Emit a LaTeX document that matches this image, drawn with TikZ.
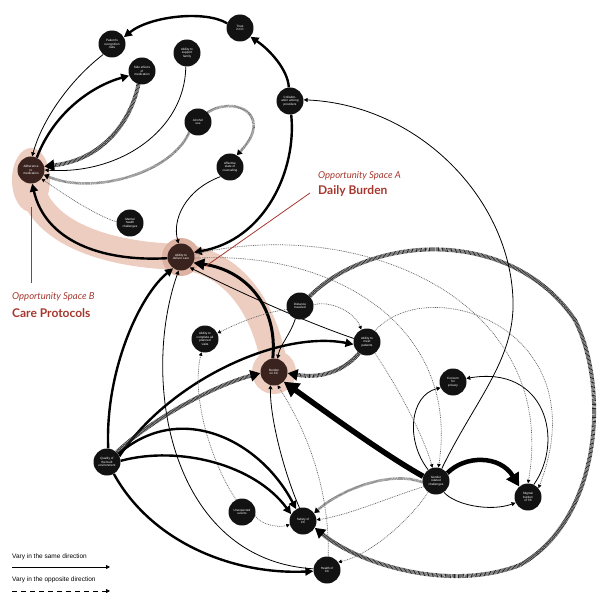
\documentclass[tikz,border=0pt]{standalone}
\usepackage{fontspec}
\setmainfont{Liberation Sans}
\newfontfamily\labfont{Lato}
\usetikzlibrary{arrows.meta}
\pgfdeclarelayer{bg}\pgfdeclarelayer{edges}
\pgfsetlayers{bg,edges,main}
\definecolor{oppred}{HTML}{A5372E}
\definecolor{bandc}{HTML}{EDCDBF}
\definecolor{haloc}{HTML}{DDB2A2}
\definecolor{nodebrown}{HTML}{3A231E}
\begin{document}
\begin{tikzpicture}[x=1pt,y=-1pt,
 cn/.style={circle,fill=black!93,text=white,minimum size=27pt,inner sep=0pt,align=center,font=\fontsize{3.1}{3.6}\selectfont},
 cnb/.style={cn,fill=nodebrown},
 posl/.style={draw=black,line width=0.8pt,-{Triangle[length=4pt,width=4pt]}},
 thk/.style={draw=black,line width=2.4pt,-{Triangle[length=8pt,width=8pt]}},
 hat/.style={draw=black!85,line width=4pt,dash pattern=on 0.7pt off 0.6pt,-{Triangle[length=10pt,width=11pt,color=black]}},
 hatl/.style={draw=black!60,line width=2.6pt,dash pattern=on 0.5pt off 0.6pt,-{Triangle[length=5pt,width=6pt,color=black]}},
 dots/.style={draw=black!60,line width=0.7pt,dash pattern=on 0.9pt off 0.9pt,-{Triangle[length=3.5pt,width=3.5pt,color=black]}},
 opp/.style={text=oppred,anchor=west,inner sep=0pt},
 leg/.style={anchor=west,inner sep=0pt,font=\fontsize{6.5}{7}\selectfont}]
\useasboundingbox (0,0) rectangle (604,593);
% nodes
\node[cn] (recog) at (112,44) {Patient's\\recognition\\risks};
\node[cn] (side) at (142,71) {Side effects\\of\\medication};
\node[cn] (support) at (187,53) {Ability to\\support\\family};
\node[cn] (trust) at (240,28) {Trust\\in CC};
\node[cn] (collab) at (290,101) {Collabor-\\ation among\\providers};
\node[cn] (alcohol) at (198,122) {Alcohol\\use};
\node[cn] (affect) at (230,167) {Affective\\state of\\counseling};
\node[cnb] (adher) at (31,170) {Adherence\\to\\medication};
\node[cn] (mental) at (130,223) {Mental\\health\\challenges};
\node[cnb] (deliver) at (181,257) {Ability to\\deliver care};
\node[cn] (distance) at (300,306) {Distance\\traveled};
\node[cn] (complete) at (205,339) {Ability to\\complete all\\planned\\visits};
\node[cn] (meet) at (367,342) {Ability to\\meet\\patients};
\node[cnb] (burden) at (274,372) {Burden\\on CC};
\node[cn] (privacy) at (453,382) {Concern\\for\\privacy};
\node[cn] (quality) at (107,462) {Quality of\\the built\\environment};
\node[cn] (gender) at (436,481) {Gender\\related\\challenges};
\node[cn] (stigma) at (528,497) {Stigma/\\burden\\of TB};
\node[cn] (unexp) at (242,512) {Unexpected\\events};
\node[cn] (safety) at (303,521) {Safety of\\CC};
\node[cn] (health) at (327,570) {Health of\\CC};
% highlight band
\begin{pgfonlayer}{bg}
\fill[bandc] (31,180) ellipse [x radius=19pt, y radius=32pt];
\draw[bandc,line width=26pt,line cap=round] (31,185) .. controls (40,230) and (100,255) .. (181,257) .. controls (240,262) and (270,320) .. (276,378);
\fill[haloc] (deliver) circle [radius=19pt];
\fill[bandc] (burden) circle [radius=22pt];
\end{pgfonlayer}
% red labels
\node[opp,font=\labfont\itshape\fontsize{9.5}{11}\selectfont] (oa) at (318,176) {Opportunity Space A};
\node[opp,font=\labfont\bfseries\fontsize{12}{14}\selectfont] (ob) at (318,191) {Daily Burden};
\node[opp,font=\labfont\itshape\fontsize{9.5}{11}\selectfont] (oc) at (12,297) {Opportunity Space B};
\node[opp,font=\labfont\bfseries\fontsize{12}{14}\selectfont] (od) at (12,313) {Care Protocols};
\coordinate (la1) at (310,193); \coordinate (la2) at (206,266);
\coordinate (lb1) at (31,207); \coordinate (lb2) at (31,283);
\draw[oppred,line width=0.8pt] (la1) -- (la2);
\draw[oppred,line width=0.8pt] (lb1) -- (lb2);
% legend
\node[leg] (l1) at (12,557) {Vary in the same direction};
\node[leg] (l2) at (12,580) {Vary in the opposite direction};
\coordinate (a1) at (12,567); \coordinate (a2) at (110,567);
\coordinate (b1) at (12,591); \coordinate (b2) at (110,591);
\draw[line width=0.8pt,-{Triangle[length=4pt,width=4pt]}] (a1) -- (a2);
\draw[line width=0.8pt,dash pattern=on 5pt off 4pt,-{Triangle[length=4pt,width=4pt]}] (b1) -- (b2);
% edges
\begin{pgfonlayer}{edges}
\draw[thk] (trust.160) .. controls (205,10) and (150,16) .. (recog.30);
\draw[thk] (collab.95) .. controls (288,70) and (270,50) .. (trust.-40);
\draw[thk] (collab.-85) .. controls (297,170) and (265,240) .. (deliver.20);
\draw[posl] (recog.-130) .. controls (70,80) and (42,120) .. (adher.85);
\draw[thk] (adher.65) .. controls (55,110) and (95,85) .. (side.200);
\draw[hat] (side.-105) .. controls (130,125) and (100,160) .. (adher.15);
\draw[posl] (support.-95) .. controls (185,130) and (120,175) .. (adher.0);
\draw[hatl] (alcohol.45) .. controls (235,95) and (275,115) .. (affect.60);
\draw[hatl] (alcohol.-130) .. controls (170,175) and (90,195) .. (adher.-20);
\draw[posl] (affect.-135) .. controls (185,190) and (172,220) .. (deliver.100);
\draw[dots] (mental.175) .. controls (95,215) and (65,195) .. (adher.-40);
\draw[thk] (deliver.185) .. controls (100,262) and (45,240) .. (adher.-85);
\draw[draw=black,line width=3pt,-{Triangle[length=11pt,width=11pt]}] (burden.95) .. controls (278,305) and (245,270) .. (deliver.-25);
\draw[thk] (quality.85) .. controls (105,370) and (140,295) .. (deliver.-125);
\draw[posl] (health.175) .. controls (170,560) and (140,380) .. (deliver.-100);
\draw[posl] (meet.165) .. controls (300,320) and (235,290) .. (deliver.-50);
\draw[thk] (quality.25) .. controls (170,380) and (280,330) .. (meet.190);
\draw[posl] (distance.-110) .. controls (290,335) and (280,345) .. (burden.75);
\draw[dots] (distance.195) .. controls (265,312) and (240,322) .. (complete.25);
\draw[hat] (distance.45) .. controls (370,235) and (510,225) .. (575,320) .. controls (610,390) and (600,520) .. (520,565) .. controls (450,592) and (360,565) .. (safety.-30);
\draw[hat] (meet.-125) .. controls (340,375) and (315,378) .. (burden.-5);
\draw[hat] (quality.45) .. controls (150,420) and (215,385) .. (burden.185);
\draw[draw=black,line width=5.5pt,-{Triangle[length=15pt,width=16pt]}] (gender.160) .. controls (385,455) and (330,415) .. (burden.-45);
\draw[draw=black,line width=4.5pt,-{Triangle[length=13pt,width=14pt]}] (gender.35) .. controls (465,455) and (500,455) .. (stigma.130);
\draw[posl] (gender.125) .. controls (405,440) and (410,395) .. (privacy.205);
\draw[posl] (stigma.65) .. controls (565,440) and (545,365) .. (privacy.15);
\draw[posl] (gender.-55) .. controls (455,505) and (490,512) .. (stigma.205);
\draw[posl] (gender.65) .. controls (475,400) and (515,360) .. (513,300) .. controls (510,200) and (420,105) .. (collab.5);
\draw[dots] (distance.5) .. controls (330,300) and (355,312) .. (meet.115);
\draw[dots] (deliver.12) .. controls (360,215) and (560,300) .. (stigma.90);
\draw[dots] (deliver.-5) .. controls (340,250) and (460,330) .. (gender.80);
\draw[dots] (meet.55) .. controls (430,270) and (600,330) .. (stigma.40);
\draw[dots] (meet.-55) .. controls (400,390) and (425,440) .. (gender.105);
\draw[hatl] (gender.185) .. controls (390,470) and (340,490) .. (safety.35);
\draw[dots] (gender.205) .. controls (395,495) and (350,515) .. (safety.5);
\draw[dots] (gender.-125) .. controls (410,520) and (370,555) .. (health.35);
\draw[posl] (safety.105) .. controls (285,475) and (270,420) .. (burden.-105);
\draw[dots] (health.85) .. controls (330,480) and (300,420) .. (burden.-75);
\draw[dots] (unexp.115) .. controls (215,470) and (190,400) .. (complete.-105);
\draw[dots] (unexp.-15) .. controls (260,525) and (280,528) .. (safety.195);
\draw[thk] (quality.5) .. controls (180,445) and (255,465) .. (safety.150);
\draw[thk] (quality.35) .. controls (180,400) and (260,440) .. (safety.120);
\draw[thk] (quality.-60) .. controls (150,540) and (230,575) .. (health.185);
\end{pgfonlayer}
\end{tikzpicture}
\end{document}
